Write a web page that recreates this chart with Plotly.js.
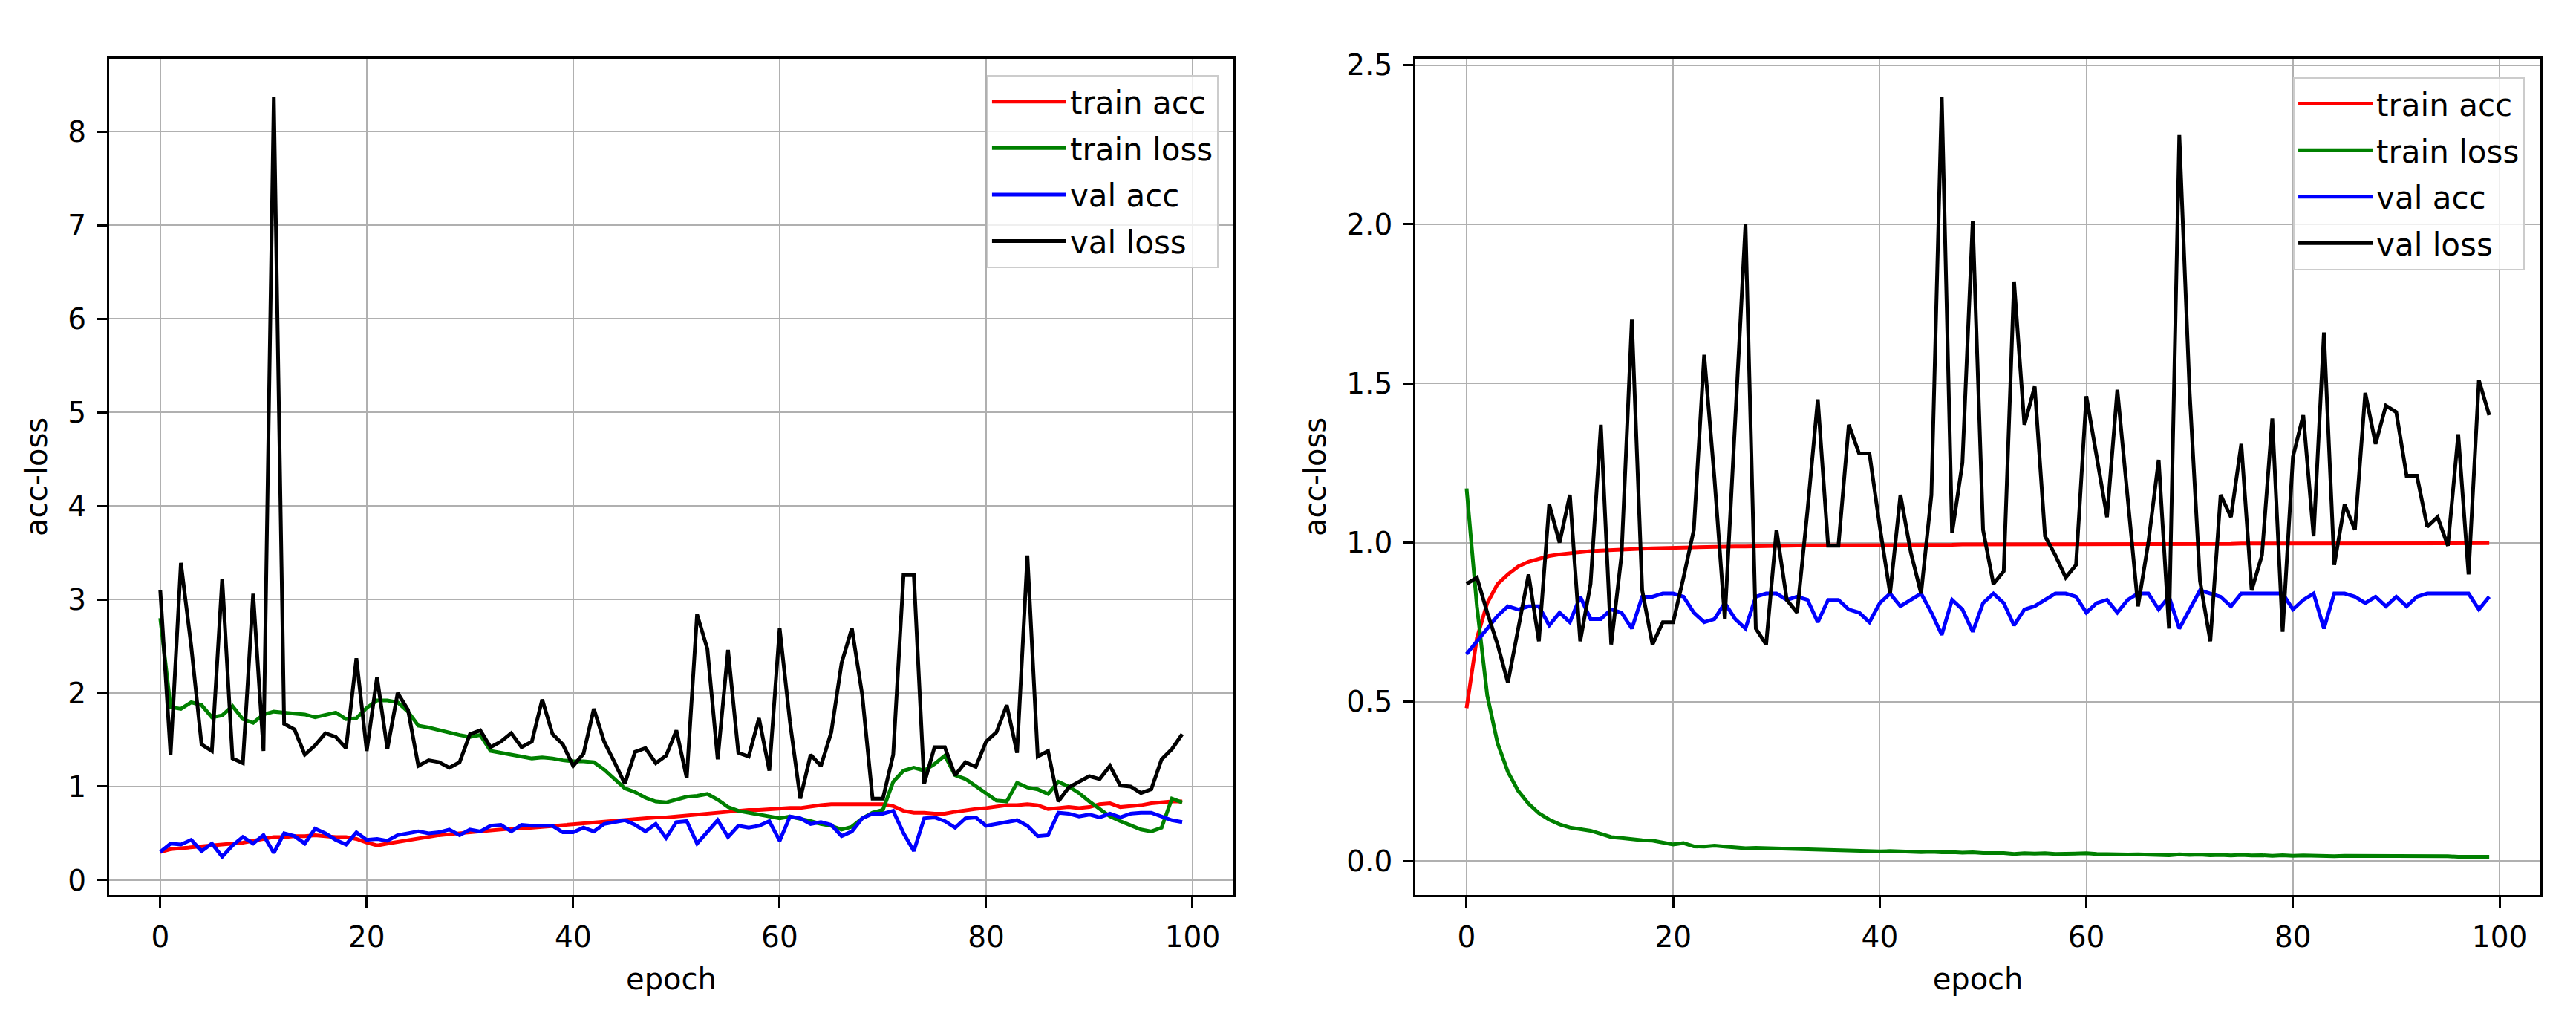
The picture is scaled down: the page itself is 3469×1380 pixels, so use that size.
<!DOCTYPE html>
<html>
<head>
<meta charset="utf-8">
<script src="https://cdn.plot.ly/plotly-3.0.1.min.js"></script>
<style>html,body{margin:0;padding:0;background:#fff;}#chart{width:3469px;height:1380px;}</style>
</head>
<body>
<div id="chart"></div>
<script>
const epochs = Array.from({length: 100}, (_, i) => i);
const seriesNames = ["train acc", "train loss", "val acc", "val loss"];
const seriesColors = ["#ff0000", "#008000", "#0000ff", "#000000"];
const xTicks = [0, 20, 40, 60, 80, 100];
const leftYTicks = [0, 1, 2, 3, 4, 5, 6, 7, 8];
const rightYTicks = [0, 0.5, 1.0, 1.5, 2.0, 2.5];

// ---- left panel ----
const leftTrainAcc = [0.30,0.33,0.34,0.35,0.36,0.37,0.38,0.39,0.40,0.42,
0.44,0.46,0.46,0.47,0.47,0.48,0.47,0.46,0.46,0.44,
0.40,0.37,0.39,0.41,0.43,0.45,0.47,0.48,0.49,0.50,
0.51,0.52,0.53,0.54,0.55,0.55,0.56,0.56,0.57,0.58,
0.59,0.60,0.61,0.62,0.63,0.64,0.65,0.66,0.67,0.67,
0.68,0.69,0.70,0.71,0.72,0.73,0.74,0.75,0.75,0.76,
0.76,0.77,0.77,0.79,0.80,0.81,0.81,0.81,0.81,0.81,
0.81,0.79,0.74,0.72,0.72,0.71,0.71,0.73,0.75,0.76,
0.77,0.79,0.80,0.80,0.81,0.80,0.76,0.77,0.78,0.77,
0.78,0.81,0.82,0.78,0.79,0.80,0.82,0.83,0.84,0.84];
const leftTrainLoss = [2.80,1.85,1.83,1.90,1.87,1.74,1.76,1.86,1.72,1.68,
1.77,1.80,1.79,1.78,1.77,1.74,1.77,1.79,1.72,1.73,
1.84,1.92,1.92,1.90,1.80,1.65,1.63,1.60,1.57,1.55,
1.53,1.55,1.38,1.36,1.34,1.32,1.30,1.31,1.30,1.28,
1.27,1.27,1.26,1.18,1.08,0.98,0.94,0.88,0.84,0.83,
0.86,0.89,0.90,0.92,0.86,0.78,0.74,0.72,0.70,0.67,
0.66,0.68,0.66,0.63,0.60,0.58,0.54,0.57,0.66,0.72,
0.75,1.05,1.17,1.20,1.17,1.24,1.33,1.12,1.08,1.00,
0.92,0.85,0.84,1.04,0.99,0.97,0.92,1.05,1.00,0.93,
0.84,0.76,0.68,0.63,0.58,0.54,0.52,0.56,0.87,0.83];
const leftValAcc = [0.30,0.39,0.38,0.43,0.31,0.39,0.25,0.37,0.46,0.39,
0.48,0.29,0.50,0.47,0.39,0.55,0.50,0.43,0.38,0.51,
0.43,0.44,0.42,0.48,0.50,0.52,0.50,0.51,0.54,0.48,
0.54,0.52,0.58,0.59,0.52,0.59,0.58,0.58,0.58,0.51,
0.51,0.56,0.52,0.60,0.62,0.64,0.59,0.52,0.60,0.45,
0.62,0.63,0.39,0.52,0.64,0.46,0.58,0.56,0.58,0.63,
0.42,0.68,0.66,0.60,0.62,0.59,0.47,0.52,0.66,0.71,
0.71,0.74,0.50,0.31,0.66,0.67,0.63,0.56,0.66,0.67,
0.58,0.60,0.62,0.64,0.58,0.47,0.48,0.72,0.71,0.68,
0.70,0.67,0.71,0.67,0.71,0.72,0.72,0.68,0.64,0.62];
const leftValLoss = [3.10,1.34,3.39,2.50,1.45,1.38,3.22,1.30,1.25,3.06,
1.38,8.37,1.67,1.61,1.34,1.44,1.57,1.53,1.41,2.37,
1.38,2.17,1.40,2.00,1.82,1.22,1.28,1.26,1.20,1.26,
1.56,1.60,1.42,1.48,1.57,1.42,1.48,1.93,1.56,1.45,
1.22,1.35,1.83,1.48,1.26,1.03,1.37,1.41,1.25,1.33,
1.60,1.09,2.84,2.47,1.29,2.46,1.36,1.32,1.73,1.17,
2.69,1.69,0.87,1.34,1.22,1.58,2.32,2.69,1.98,0.87,
0.87,1.34,3.26,3.26,1.03,1.42,1.42,1.12,1.26,1.21,
1.48,1.58,1.87,1.36,3.47,1.32,1.38,0.84,0.99,1.05,
1.11,1.08,1.22,1.01,1.00,0.93,0.97,1.29,1.40,1.56];

// ---- right panel ----
const rightTrainAcc = [0.48,0.70,0.81,0.87,0.90,0.925,0.94,0.95,0.958,0.963,
0.967,0.970,0.973,0.975,0.977,0.979,0.980,0.981,0.982,0.983,
0.984,0.985,0.985,0.986,0.987,0.987,0.988,0.988,0.989,0.989,
0.990,0.990,0.990,0.991,0.991,0.991,0.991,0.992,0.992,0.992,
0.992,0.992,0.993,0.993,0.993,0.993,0.993,0.993,0.994,0.994,
0.994,0.994,0.994,0.994,0.994,0.995,0.995,0.995,0.995,0.995,
0.995,0.995,0.995,0.995,0.996,0.996,0.996,0.996,0.996,0.996,
0.996,0.996,0.996,0.996,0.996,0.997,0.997,0.997,0.997,0.997,
0.997,0.997,0.997,0.997,0.997,0.997,0.997,0.997,0.998,0.998,
0.998,0.998,0.998,0.998,0.998,0.998,0.998,0.998,0.998,0.998];
const rightTrainLoss = [1.17,0.80,0.52,0.37,0.28,0.22,0.18,0.15,0.13,0.115,
0.105,0.100,0.095,0.085,0.075,0.072,0.068,0.065,0.064,0.058,
0.052,0.056,0.046,0.045,0.048,0.045,0.043,0.040,0.041,0.040,
0.038,0.037,0.038,0.035,0.034,0.033,0.032,0.032,0.031,0.031,
0.030,0.031,0.029,0.029,0.028,0.029,0.027,0.028,0.026,0.027,
0.025,0.026,0.025,0.022,0.024,0.023,0.024,0.022,0.023,0.022,
0.024,0.022,0.021,0.022,0.020,0.021,0.020,0.021,0.018,0.021,
0.019,0.020,0.018,0.019,0.017,0.019,0.017,0.018,0.016,0.018,
0.016,0.017,0.016,0.017,0.015,0.016,0.016,0.015,0.016,0.015,
0.015,0.016,0.014,0.015,0.014,0.015,0.013,0.014,0.013,0.013];
const rightValAcc = [0.65,0.69,0.73,0.77,0.80,0.79,0.80,0.80,0.74,0.78,
0.75,0.83,0.76,0.76,0.79,0.78,0.73,0.83,0.83,0.84,
0.84,0.83,0.78,0.75,0.76,0.81,0.76,0.73,0.83,0.84,
0.84,0.82,0.83,0.82,0.75,0.82,0.82,0.79,0.78,0.75,
0.81,0.84,0.80,0.82,0.84,0.78,0.71,0.82,0.79,0.72,
0.81,0.84,0.81,0.74,0.79,0.80,0.82,0.84,0.84,0.83,
0.78,0.81,0.82,0.78,0.82,0.84,0.84,0.79,0.83,0.73,
0.79,0.85,0.84,0.83,0.80,0.84,0.84,0.84,0.84,0.84,
0.79,0.82,0.84,0.73,0.84,0.84,0.83,0.81,0.83,0.80,
0.83,0.80,0.83,0.84,0.84,0.84,0.84,0.84,0.79,0.83];
const rightValLoss = [0.87,0.89,0.78,0.68,0.56,0.73,0.90,0.69,1.12,1.00,
1.15,0.69,0.87,1.37,0.68,0.96,1.70,0.85,0.68,0.75,
0.75,0.89,1.04,1.59,1.20,0.76,1.38,2.00,0.73,0.68,
1.04,0.82,0.78,1.10,1.45,0.99,0.99,1.37,1.28,1.28,
1.05,0.84,1.15,0.97,0.84,1.15,2.40,1.03,1.25,2.01,
1.04,0.87,0.91,1.82,1.37,1.49,1.02,0.96,0.89,0.93,
1.46,1.27,1.08,1.48,1.13,0.80,1.00,1.26,0.73,2.28,
1.47,0.88,0.69,1.15,1.08,1.31,0.85,0.96,1.39,0.72,
1.27,1.40,1.02,1.66,0.93,1.12,1.04,1.47,1.31,1.43,
1.41,1.21,1.21,1.05,1.08,0.99,1.34,0.90,1.51,1.40];

const leftSeries = [leftTrainAcc, leftTrainLoss, leftValAcc, leftValLoss];
const rightSeries = [rightTrainAcc, rightTrainLoss, rightValAcc, rightValLoss];

const FONT = "DejaVu Sans, Liberation Sans, sans-serif";
const traces = [];
leftSeries.forEach((ys, i) => {
  traces.push({x: epochs, y: ys, type: "scatter", mode: "lines", name: seriesNames[i],
    line: {color: seriesColors[i], width: 5}, xaxis: "x", yaxis: "y",
    legend: "legend", legendgroup: "L" + i});
});
rightSeries.forEach((ys, i) => {
  traces.push({x: epochs, y: ys, type: "scatter", mode: "lines", name: seriesNames[i],
    line: {color: seriesColors[i], width: 5}, xaxis: "x2", yaxis: "y2",
    legend: "legend2", legendgroup: "R" + i});
});

const TICKSIZE = 39, TITLESIZE = 40, LEGENDSIZE = 42;
const axisCommon = {
  showgrid: true, gridcolor: "#b0b0b0", gridwidth: 2,
  showline: true, linecolor: "#000", linewidth: 3, mirror: true,
  ticks: "outside", ticklen: 14, tickwidth: 3, tickcolor: "#000",
  zeroline: false, tickfont: {family: FONT, size: TICKSIZE, color: "#000"},
  ticklabelstandoff: 6
};
const legendCommon = {
  xanchor: "right", yanchor: "top",
  bgcolor: "rgba(255,255,255,0.8)", bordercolor: "#cccccc", borderwidth: 2,
  font: {family: FONT, size: LEGENDSIZE, color: "#000"}, tracegroupgap: 5, itemwidth: 100
};
const titleFont = {family: FONT, size: TITLESIZE, color: "#000"};

const layout = {
  width: 3469, height: 1380,
  margin: {l: 147, r: 48, t: 79, b: 175},
  paper_bgcolor: "#fff", plot_bgcolor: "#fff",
  font: {family: FONT, color: "#000"},
  showlegend: true,
  xaxis: Object.assign({}, axisCommon, {domain: [0, 0.4624], range: [-4.95, 103.95], tickvals: xTicks,
    anchor: "y", title: {text: "epoch", font: titleFont, standoff: 22}}),
  yaxis: Object.assign({}, axisCommon, {domain: [0, 1], range: [-0.16, 8.78], tickvals: leftYTicks,
    anchor: "x", title: {text: "acc-loss", font: titleFont, standoff: 16}}),
  xaxis2: Object.assign({}, axisCommon, {domain: [0.5373, 1], range: [-4.95, 103.95], tickvals: xTicks,
    anchor: "y2", title: {text: "epoch", font: titleFont, standoff: 22}}),
  yaxis2: Object.assign({}, axisCommon, {domain: [0, 1], range: [-0.107, 2.52], tickvals: rightYTicks,
    tickformat: ".1f", anchor: "x2", title: {text: "acc-loss", font: titleFont, standoff: 16}}),
  legend: Object.assign({}, legendCommon, {x: 0.4563, y: 0.9805}),
  legend2: Object.assign({}, legendCommon, {x: 0.9936, y: 0.978})
};

Plotly.newPlot("chart", traces, layout, {displayModeBar: false, staticPlot: true});
</script>
</body>
</html>
